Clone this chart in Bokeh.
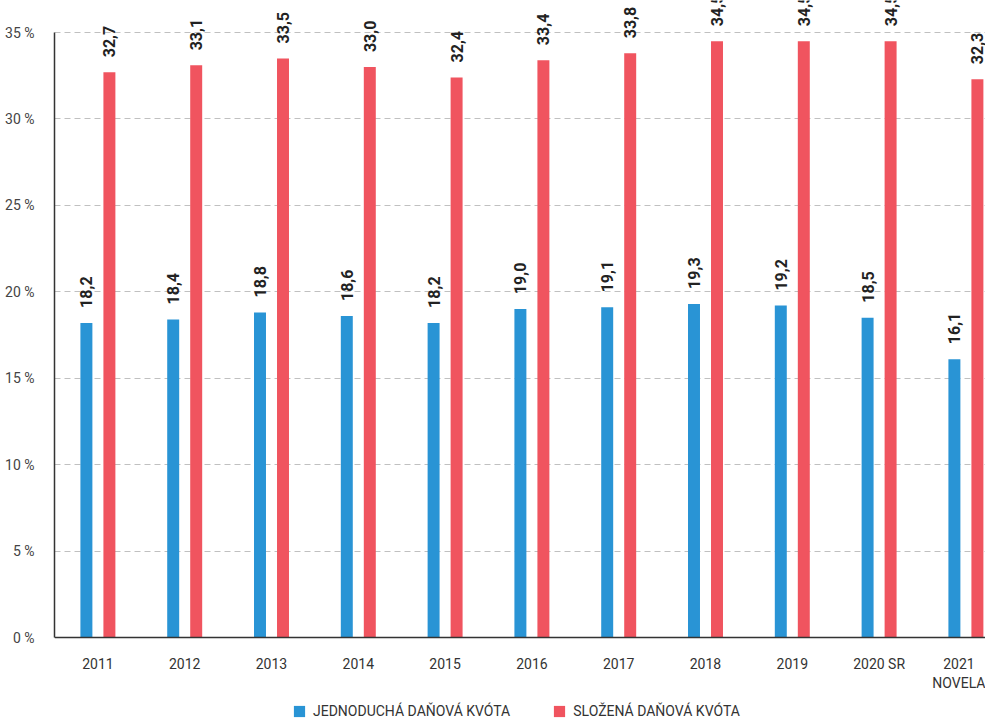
import numpy as np
from bokeh.plotting import figure
from bokeh.models import (Range1d, FixedTicker, ColumnDataSource, LabelSet,
                          Legend, LegendItem)
from bokeh.core.properties import value
from bokeh.embed import file_html
from bokeh.resources import INLINE

# ---- data ----
categories = ["2011", "2012", "2013", "2014", "2015", "2016", "2017",
              "2018", "2019", "2020 SR", "2021\nNOVELA"]
simple_quota = [18.2, 18.4, 18.8, 18.6, 18.2, 19.0, 19.1, 19.3, 19.2, 18.5, 16.1]
compound_quota = [32.7, 33.1, 33.5, 33.0, 32.4, 33.4, 33.8, 34.5, 34.5, 34.5, 32.3]
y_ticks = [0, 5, 10, 15, 20, 25, 30, 35]
y_tick_labels = [f"{t} %" for t in y_ticks]
series_names = ["JEDNODUCHÁ DAŇOVÁ KVÓTA", "SLOŽENÁ DAŇOVÁ KVÓTA"]

BLUE = "#2994d5"
RED = "#f0545f"
FONT = "Roboto"

W, H = 985, 719
LEFT = 54
Y0_PX, Y35_PX = 637, 32          # canvas rows of 0 % and 35 %
K = (Y0_PX - Y35_PX) / 35.0       # px per percent
CAT_PX = 86.8
frame_w = W - LEFT

idx = np.arange(len(categories))
off = 0.1325
bw = 0.138

def fmt(v):
    return f"{v:.1f}".replace(".", ",")

src_b = ColumnDataSource(dict(x=idx - off, top=simple_quota,
                              txt=[fmt(v) for v in simple_quota]))
src_r = ColumnDataSource(dict(x=idx + off, top=compound_quota,
                              txt=[fmt(v) for v in compound_quota]))

p = figure(width=W, height=H, output_backend="svg", toolbar_location=None,
           x_range=Range1d(-0.5, -0.5 + frame_w / CAT_PX),
           y_range=Range1d(-(H - Y0_PX) / K, Y0_PX / K),
           min_border_left=LEFT, min_border_top=0, min_border_bottom=0,
           min_border_right=0)
p.outline_line_color = None
p.background_fill_color = "white"
p.border_fill_color = "white"

rb = p.vbar(x="x", top="top", bottom=0, width=bw, source=src_b,
            fill_color=BLUE, line_color=None)
rr = p.vbar(x="x", top="top", bottom=0, width=bw, source=src_r,
            fill_color=RED, line_color=None)

for src in (src_b, src_r):
    p.add_layout(LabelSet(x="x", y="top", text="txt", source=src,
                          angle=np.pi / 2, text_align="left",
                          text_baseline="middle", y_offset=15,
                          text_font=value(FONT), text_font_size="16px",
                          text_font_style="bold", text_color="#222222"))

# axes
p.yaxis.ticker = FixedTicker(ticks=y_ticks)
p.yaxis.bounds = (0, 35)
p.yaxis.major_label_overrides = {t: l for t, l in zip(y_ticks, y_tick_labels)}
p.yaxis.major_tick_line_color = None
p.yaxis.minor_tick_line_color = None
p.yaxis.major_label_standoff = 14
p.yaxis.major_label_text_font = FONT
p.yaxis.major_label_text_font_size = "14px"
p.yaxis.major_label_text_color = "#444444"
p.yaxis.axis_line_color = "#333333"
p.yaxis.axis_line_width = 1.5

p.xaxis.fixed_location = 0
p.xaxis.ticker = FixedTicker(ticks=list(idx))
p.xaxis.major_label_overrides = {int(i): c for i, c in zip(idx, categories)}
p.xaxis.major_tick_line_color = None
p.xaxis.minor_tick_line_color = None
p.xaxis.major_label_standoff = 12
p.xaxis.major_label_text_font = FONT
p.xaxis.major_label_text_font_size = "14px"
p.xaxis.major_label_text_color = "#333333"
p.xaxis.major_label_text_line_height = 1.2
p.xaxis.axis_line_color = "#333333"
p.xaxis.axis_line_width = 1.5

p.xgrid.visible = False
p.ygrid.grid_line_color = "#c0c0c0"
p.ygrid.grid_line_dash = "6 4"
p.ygrid.grid_line_width = 1

legend = Legend(items=[LegendItem(label=series_names[0], renderers=[rb]),
                       LegendItem(label=series_names[1], renderers=[rr])],
                location=(238, 0), orientation="horizontal",
                glyph_width=14, glyph_height=14, label_standoff=7, spacing=42,
                padding=0, margin=0, border_line_color=None,
                background_fill_alpha=0, label_text_font=FONT,
                label_text_font_size="14px", label_text_color="#333333")
p.add_layout(legend, "center")

open("out.html", "w").write(file_html(p, INLINE))
